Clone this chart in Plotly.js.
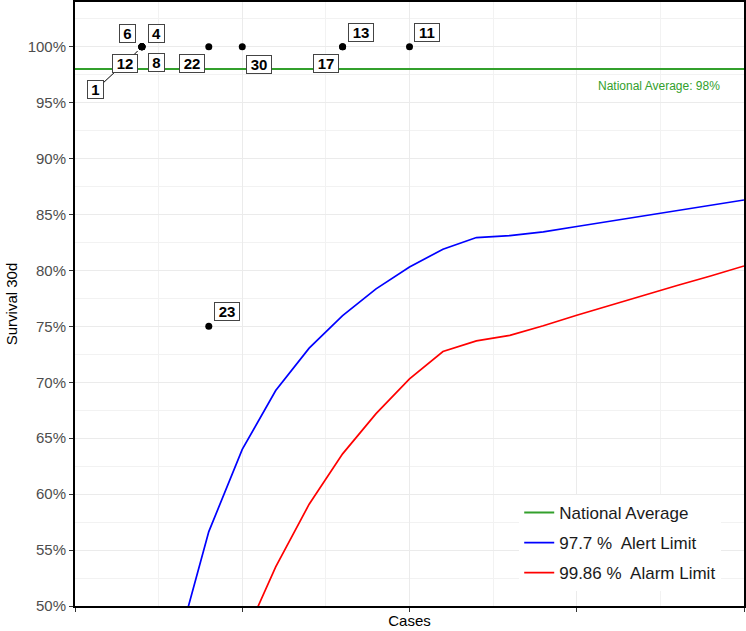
<!DOCTYPE html>
<html>
<head>
<meta charset="utf-8">
<script src="https://cdn.plot.ly/plotly-3.0.1.min.js"></script>
<style>html,body{margin:0;padding:0;background:#fff;}#chart{width:746px;height:631px;}</style>
</head>
<body>
<div id="chart"></div>
<script>
// ---- data ----
const hospitals = ['1', '6', '4', '12', '8', '22', '30', '17', '13', '11', '23'];
const cases     = [2, 2, 2, 2, 2, 4, 5, 8, 8, 10, 4];
const survival  = [1, 1, 1, 1, 1, 1, 1, 1, 1, 1, 0.75];

const alertCases = [3, 4, 5, 6, 7, 8, 9, 10, 11, 12, 13, 14, 15, 16, 17, 18, 19, 20];
const alertLimit = [0.457, 0.5665, 0.640, 0.6926, 0.7305, 0.7597, 0.7835, 0.803, 0.819, 0.8294,
                    0.8312, 0.8345, 0.8393, 0.844, 0.849, 0.854, 0.8585, 0.863];
const alarmCases = [5, 6, 7, 8, 9, 10, 11, 12, 13, 14, 15, 16, 17, 18, 19, 20];
const alarmLimit = [0.468, 0.535, 0.591, 0.636, 0.672, 0.703, 0.7275, 0.737, 0.742, 0.7505,
                    0.760, 0.769, 0.778, 0.7865, 0.795, 0.804];
const nationalAverage = 0.98;
const caseRange = [0, 20];
const yTicks = [0.5, 0.55, 0.6, 0.65, 0.7, 0.75, 0.8, 0.85, 0.9, 0.95, 1.0];

const legendNames = ['National Average', '97.7 %  Alert Limit', '99.86 %  Alarm Limit'];

// ---- label placement (layout only: pixel offsets of each label from its point) ----
const labelOffsets = {
  '1':  {ax: -46, ay: 43, seg: true, standoff: 38},
  '6':  {ax: -14, ay: -13},
  '4':  {ax: 15,  ay: -13},
  '12': {ax: -16.5, ay: 16.5, seg: true, standoff: 6},
  '8':  {ax: 15,  ay: 15.5},
  '22': {ax: -17, ay: 16.5},
  '30': {ax: 17,  ay: 18},
  '17': {ax: -17, ay: 17},
  '13': {ax: 18,  ay: -14.5},
  '11': {ax: 17.5, ay: -14.5},
  '23': {ax: 18,  ay: -15}
};

const FONT = 'Liberation Sans, Arial, Helvetica, sans-serif';
const GREEN = '#33a02c';

const traces = [
  {
    x: caseRange, y: [nationalAverage, nationalAverage],
    mode: 'lines', name: legendNames[0], legendgroup: 'g1',
    line: {color: GREEN, width: 2}, hoverinfo: 'skip'
  },
  {
    x: alertCases, y: alertLimit,
    mode: 'lines', name: legendNames[1], legendgroup: 'g2',
    line: {color: '#0000ff', width: 1.7}
  },
  {
    x: alarmCases, y: alarmLimit,
    mode: 'lines', name: legendNames[2], legendgroup: 'g3',
    line: {color: '#ff0000', width: 1.7}
  },
  {
    x: cases, y: survival, text: hospitals,
    mode: 'markers', showlegend: false,
    marker: {color: '#000', size: 7}
  }
];

const annotations = hospitals.map((h, i) => {
  const o = labelOffsets[h];
  return {
    x: cases[i], y: survival[i], xref: 'x', yref: 'y',
    text: '<b>' + h + '</b>',
    showarrow: true, arrowhead: 0,
    arrowwidth: o.seg ? 1 : 0.1,
    arrowcolor: o.seg ? '#000' : 'rgba(0,0,0,0)',
    standoff: o.standoff || 0,
    ax: o.ax, ay: o.ay,
    font: {family: FONT, size: 15, color: '#000'},
    bgcolor: '#fff', bordercolor: '#444', borderwidth: 1, borderpad: 1,
    width: h.length === 1 ? 13 : 22, height: 15
  };
});

annotations.push({
  x: 19.33, y: nationalAverage, xref: 'x', yref: 'y',
  xanchor: 'right', yanchor: 'middle', yshift: -17,
  text: 'National Average: 98%', showarrow: false,
  font: {family: FONT, size: 12, color: GREEN}
});

const layout = {
  width: 746, height: 631,
  margin: {l: 75, r: 2, t: 2, b: 25},
  paper_bgcolor: '#fff', plot_bgcolor: '#fff',
  font: {family: FONT, color: '#000'},
  showlegend: true,
  legend: {
    x: 0.664, xanchor: 'left', y: 0.025, yanchor: 'bottom',
    bgcolor: '#fff', borderwidth: 0,
    font: {family: FONT, size: 17, color: '#1a1a1a'},
    tracegroupgap: 5, itemwidth: 30
  },
  xaxis: {
    range: caseRange, dtick: 5, tick0: 0,
    showticklabels: false, ticks: 'outside', ticklen: 4, tickcolor: '#333', tickwidth: 1,
    showgrid: true, gridcolor: '#ebebeb', gridwidth: 1,
    minor: {dtick: 2.5, showgrid: true, gridcolor: '#f2f2f2', gridwidth: 1},
    showline: true, mirror: true, linecolor: '#000', linewidth: 2,
    zeroline: false,
    title: {text: 'Cases', font: {family: FONT, size: 15, color: '#000'}, standoff: 4}
  },
  yaxis: {
    range: [0.5, 1.04], tickvals: yTicks, tickformat: '.0%',
    ticks: 'outside', ticklen: 4, tickcolor: '#333', tickwidth: 1,
    tickfont: {family: FONT, size: 15, color: '#4d4d4d'},
    showgrid: true, gridcolor: '#ebebeb', gridwidth: 1,
    minor: {dtick: 0.025, tick0: 0.5, showgrid: true, gridcolor: '#f2f2f2', gridwidth: 1},
    showline: true, mirror: true, linecolor: '#000', linewidth: 2,
    zeroline: false,
    title: {text: 'Survival 30d', font: {family: FONT, size: 15, color: '#000'}, standoff: 6}
  },
  annotations: annotations
};

Plotly.newPlot('chart', traces, layout, {staticPlot: true, displayModeBar: false});
</script>
</body>
</html>
